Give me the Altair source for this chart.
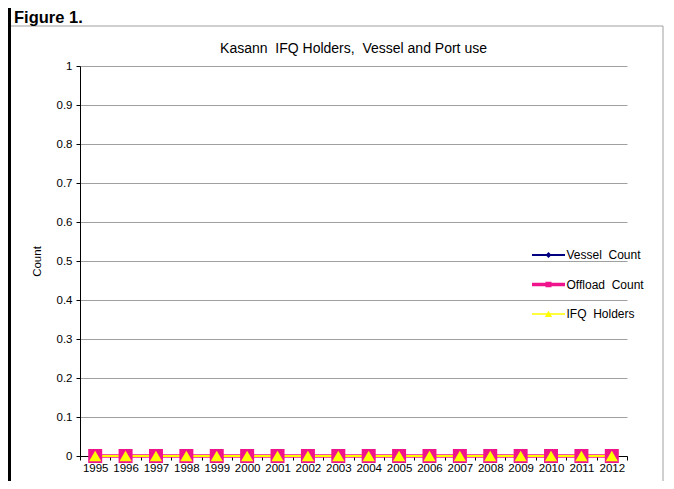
import altair as alt
import pandas as pd

# ---- data ----
years = [1995, 1996, 1997, 1998, 1999, 2000, 2001, 2002, 2003,
         2004, 2005, 2006, 2007, 2008, 2009, 2010, 2011, 2012]
vessel_count = [0, 0, 0, 0, 0, 0, 0, 0, 0, 0, 0, 0, 0, 0, 0, 0, 0, 0]
offload_count = [0, 0, 0, 0, 0, 0, 0, 0, 0, 0, 0, 0, 0, 0, 0, 0, 0, 0]
ifq_holders = [0, 0, 0, 0, 0, 0, 0, 0, 0, 0, 0, 0, 0, 0, 0, 0, 0, 0]
series_names = ["Vessel \u00a0Count", "Offload \u00a0Count", "IFQ \u00a0Holders"]
y_ticks = [0, 0.1, 0.2, 0.3, 0.4, 0.5, 0.6, 0.7, 0.8, 0.9, 1]
chart_title = "Kasann \u00a0IFQ Holders, \u00a0Vessel and Port use"

series_values = [vessel_count, offload_count, ifq_holders]
rows = []
for name, vals in zip(series_names, series_values):
    for yr, v in zip(years, vals):
        rows.append({"year": yr, "value": v, "series": name})
df = pd.DataFrame(rows)

FONT = "Liberation Sans"
colors = ["#000080", "#f0148c", "#ffff00"]
line_widths = [2, 3.5, 2]
shapes = ["diamond", "square", "triangle-up"]
marker_sizes = [70, 196, 150]
# legend symbols: short line + small marker (custom unit paths)
legend_paths = [
    "M-2.75,-0.17H2.75V0.17H-2.75Z M0,-0.5L0.5,0L0,0.5L-0.5,0Z",
    "M-2.75,-0.3H2.75V0.3H-2.75Z M-0.5,-0.45H0.5V0.45H-0.5Z",
    "M-2.75,-0.12H2.75V0.12H-2.75Z M0,-0.55L0.6,0.5H-0.6Z",
]

PLOT_W, PLOT_H = 547, 390

x_enc = alt.X(
    "year:O",
    bandPosition=0.5,
    scale=alt.Scale(type="band", paddingInner=0, paddingOuter=0),
    axis=alt.Axis(
        title=None, labelAngle=0, tickBand="extent", grid=False,
        domainColor="black", tickColor="black", tickSize=4,
        labelFont=FONT, labelFontSize=11.5, labelColor="black", labelPadding=2,
    ),
)
y_enc = alt.Y(
    "value:Q",
    scale=alt.Scale(domain=[0, 1]),
    axis=alt.Axis(
        values=y_ticks, format="~g", title="Count",
        grid=True, gridColor="#a0a0a0", gridWidth=1,
        domainColor="black", tickColor="black", tickSize=4,
        labelFont=FONT, labelFontSize=11.5, labelColor="black", labelPadding=4,
        titleFont=FONT, titleFontSize=11.5, titleFontWeight="normal",
        titleColor="black", titlePadding=14,
    ),
)

base = alt.Chart(df)
line_layers = []
point_layers = []
for name, c, w, s, sz in zip(series_names, colors, line_widths, shapes, marker_sizes):
    sub = base.transform_filter(alt.datum.series == name)
    line_layers.append(sub.mark_line(color=c, strokeWidth=w).encode(x=x_enc, y=y_enc))
    point_layers.append(
        sub.mark_point(shape=s, size=sz, filled=True, color=c, opacity=1, strokeWidth=0)
        .encode(x=x_enc, y=y_enc)
    )

legend_layer = base.transform_filter("datum.value > 5").mark_point(
    filled=True, opacity=1
).encode(
    color=alt.Color("series:N", scale=alt.Scale(domain=series_names, range=colors),
                    legend=alt.Legend(title=None, orient="none", legendX=462.5, legendY=183)),
    shape=alt.Shape("series:N", scale=alt.Scale(domain=series_names, range=legend_paths)),
)

deco = pd.DataFrame({"k": [0]})
frame_top = alt.Chart(deco).mark_rule(color="#a0a0a0", strokeWidth=1).encode(
    x=alt.value(-69), x2=alt.value(583), y=alt.value(-40))
frame_right = alt.Chart(deco).mark_rule(color="#a0a0a0", strokeWidth=1).encode(
    x=alt.value(583), y=alt.value(-40), y2=alt.value(415))
left_bar = alt.Chart(deco).mark_rule(color="black", strokeWidth=3).encode(
    x=alt.value(-70.5), y=alt.value(-58), y2=alt.value(415))
fig_label = alt.Chart(deco).mark_text(
    font=FONT, fontSize=16.5, fontWeight="bold", align="left", baseline="alphabetic",
    color="black").encode(x=alt.value(-66), y=alt.value(-43), text=alt.value("Figure 1."))
title_text = alt.Chart(deco).mark_text(
    font=FONT, fontSize=14, fontWeight="normal", align="center", baseline="middle",
    color="black").encode(x=alt.value(PLOT_W / 2), y=alt.value(-17), text=alt.value(chart_title))

chart = alt.layer(
    frame_top, frame_right, left_bar, fig_label, title_text,
    *line_layers, *point_layers, legend_layer,
).properties(
    width=PLOT_W, height=PLOT_H,
    background="white",
    autosize=alt.AutoSizeParams(type="none"),
    padding={"left": 72, "top": 58, "right": 39, "bottom": 25},
).configure_view(stroke=None).configure_legend(
    symbolSize=144, symbolStrokeWidth=0, labelOffset=12, rowPadding=17.5,
    labelFont=FONT, labelFontSize=12, labelColor="black", labelLimit=300,
    padding=0,
)

chart.save("out.html", embed_options={"renderer": "svg", "actions": False})
